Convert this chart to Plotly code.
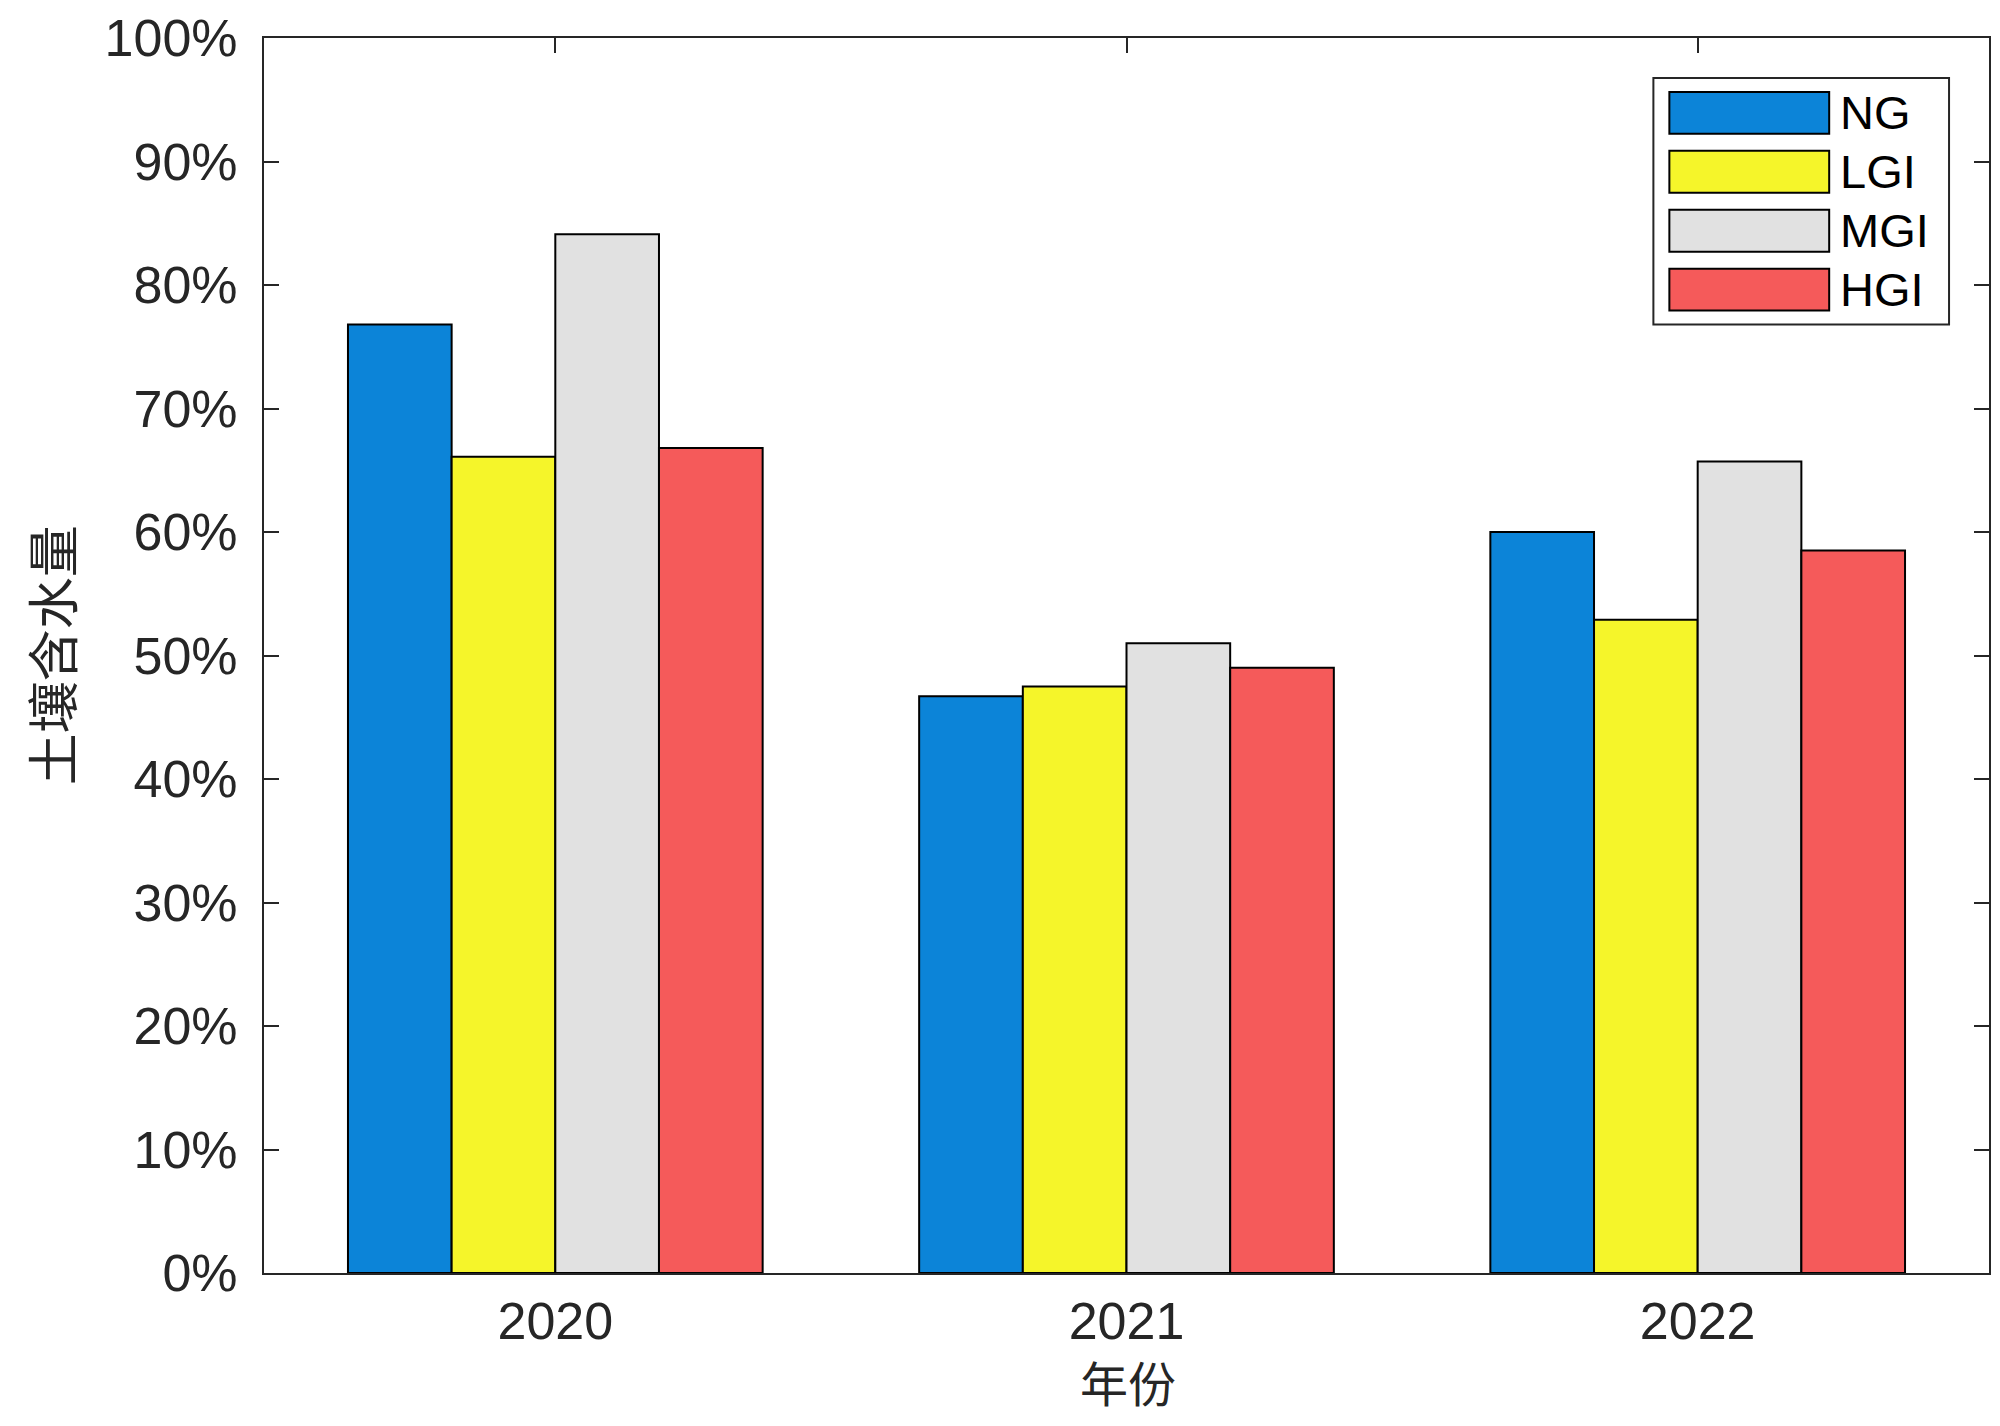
import plotly.graph_objects as go

# ---- data ----
years = ["2020", "2021", "2022"]
series_names = ["NG", "LGI", "MGI", "HGI"]
ng = [0.768, 0.467, 0.600]
lgi = [0.661, 0.475, 0.529]
mgi = [0.841, 0.510, 0.657]
hgi = [0.668, 0.490, 0.585]
series_values = [ng, lgi, mgi, hgi]
series_colors = ["#0C84D8", "#F5F52A", "#E1E1E1", "#F55A5A"]
y_ticks = [0, 0.1, 0.2, 0.3, 0.4, 0.5, 0.6, 0.7, 0.8, 0.9, 1.0]
y_title = "土壤含水量"
x_title = "年份"

OFF = 8  # default html body margin
W, H = 2000 - 2 * OFF, 1426 - 2 * OFF
# plot area in reference (window) pixels
L, R, T, B = 264 - OFF, 1991 - OFF, 36 - OFF, 1273 - OFF

def px(x):
    return (x - OFF - L) / (R - L)

def py(y):
    return (B - (y - OFF)) / (B - T)

fig = go.Figure()
for name, vals, col in zip(series_names, series_values, series_colors):
    fig.add_trace(go.Bar(
        x=years, y=vals, name=name,
        marker=dict(color=col, line=dict(color="#000000", width=2)),
        showlegend=False,
    ))

tick_font = dict(family="Liberation Sans, Arial, sans-serif", size=52, color="#262626")

fig.update_layout(
    width=W, height=H,
    margin=dict(l=L, r=W - R, t=T, b=H - B, pad=0),
    paper_bgcolor="white", plot_bgcolor="white",
    barmode="group", bargap=0.274, bargroupgap=0,
    font=tick_font,
)
fig.update_xaxes(
    type="category", range=[-0.51, 2.51],
    showline=True, linecolor="#262626", linewidth=2, mirror="ticks",
    ticks="inside", ticklen=15, tickwidth=2, tickcolor="#262626",
    showgrid=False, zeroline=False, layer="below traces",
    tickfont=tick_font, ticklabelstandoff=2, ticklabeloverflow="allow",
)
fig.update_yaxes(
    range=[0, 1], tickvals=y_ticks, tickformat=".0%",
    showline=True, linecolor="#262626", linewidth=2, mirror="ticks",
    ticks="inside", ticklen=15, tickwidth=2, tickcolor="#262626",
    showgrid=False, zeroline=False, layer="below traces",
    tickfont=tick_font, ticklabelstandoff=14, ticklabeloverflow="allow",
)

annotations = [
    dict(text=y_title, xref="paper", yref="paper", x=px(50), y=py(654),
         textangle=-90, showarrow=False,
         font=dict(family="Noto Sans CJK SC", size=52, color="#262626"),
         xanchor="center", yanchor="middle"),
    dict(text=x_title, xref="paper", yref="paper", x=px(1129), y=py(1381),
         showarrow=False,
         font=dict(family="Noto Sans CJK SC", size=48, color="#262626"),
         xanchor="center", yanchor="middle"),
]

# custom legend (MATLAB-style wide swatches)
shapes = [dict(type="rect", xref="paper", yref="paper",
               x0=px(1655), x1=px(1951), y0=py(323), y1=py(76),
               line=dict(color="#262626", width=2), fillcolor="white", layer="above")]
row_y = [111, 170, 229, 288]
for name, col, yc in zip(series_names, series_colors, row_y):
    shapes.append(dict(type="rect", xref="paper", yref="paper",
                       x0=px(1671), x1=px(1831), y0=py(yc + 21), y1=py(yc - 21),
                       line=dict(color="#000000", width=2), fillcolor=col, layer="above"))
    annotations.append(dict(text=name, xref="paper", yref="paper", x=px(1840), y=py(yc),
                            showarrow=False, xanchor="left", yanchor="middle",
                            font=dict(family="Liberation Sans, Arial, sans-serif", size=47, color="#000000")))

fig.update_layout(shapes=shapes, annotations=annotations)
fig.write_html("out.html")
